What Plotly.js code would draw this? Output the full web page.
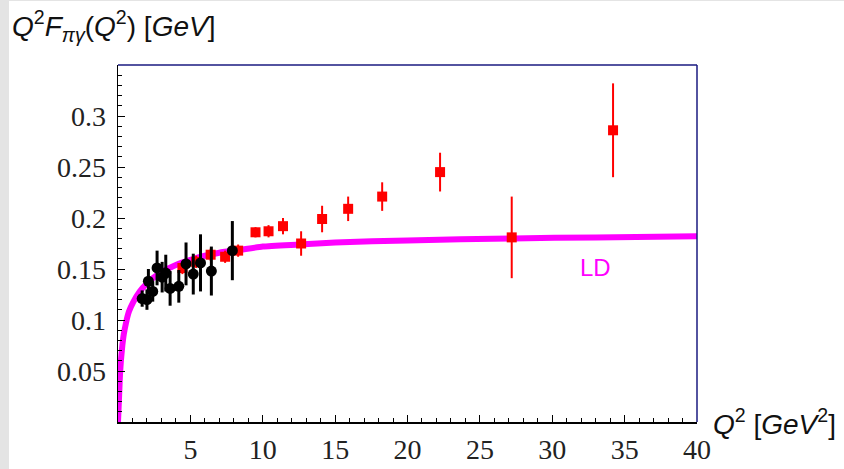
<!DOCTYPE html>
<html>
<head>
<meta charset="utf-8">
<script src="https://cdn.plot.ly/plotly-3.0.1.min.js"></script>
<style>
  html, body { margin: 0; padding: 0; background: #e4e4e4; }
  #sheet { position: absolute; left: 9px; top: 1px; right: 0; bottom: 0; background: #ffffff; }
  #chart { position: absolute; left: 0; top: 0; width: 844px; height: 469px; }
</style>
</head>
<body>
<div id="sheet"></div>
<div id="chart"></div>
<script>
// Local-duality (LD) prediction for Q^2 F_{pi gamma}(Q^2)
const ldQ2  = [0, 0.03, 0.06, 0.1, 0.14, 0.2, 0.3, 0.4, 0.55, 0.75, 1.07, 1.5, 2, 2.5, 3, 4, 5, 6, 7, 8.5, 10, 12.5, 15, 20, 27.3, 33, 40];
const ldVal = [0, 0.010, 0.020, 0.034, 0.047, 0.060, 0.075, 0.086, 0.097, 0.108, 0.118, 0.128, 0.136, 0.142, 0.147, 0.154, 0.159, 0.163, 0.166, 0.169, 0.172, 0.174, 0.176, 0.178, 0.180, 0.181, 0.182];

// BaBar data (red squares)
const babarQ2  = [4.45, 5.4, 6.4, 7.4, 8.3, 9.5, 10.4, 11.4, 12.65, 14.1, 15.9, 18.25, 22.25, 27.2, 34.2];
const babarVal = [0.151, 0.157, 0.164, 0.162, 0.168, 0.186, 0.187, 0.192, 0.175, 0.199, 0.209, 0.221, 0.245, 0.181, 0.286];
const babarErr = [0.006, 0.006, 0.006, 0.006, 0.006, 0.005, 0.006, 0.008, 0.012, 0.013, 0.012, 0.014, 0.019, 0.040, 0.046];

// CLEO data (black circles)
const cleoQ2  = [1.67, 2.0, 2.1, 2.4, 2.7, 3.05, 3.3, 3.6, 4.2, 4.7, 5.2, 5.7, 6.45, 7.9];
const cleoVal = [0.121, 0.120, 0.138, 0.128, 0.151, 0.142, 0.146, 0.131, 0.133, 0.155, 0.145, 0.156, 0.148, 0.168];
const cleoErr = [0.008, 0.010, 0.012, 0.010, 0.017, 0.015, 0.018, 0.017, 0.016, 0.021, 0.020, 0.028, 0.024, 0.029];

// Axis ticks
const xTicks = [5, 10, 15, 20, 25, 30, 35, 40];
const yTicks = [0.05, 0.1, 0.15, 0.2, 0.25, 0.3];
const yTickText = ['0.05', '0.1', '0.15', '0.2', '0.25', '0.3'];

const magenta = '#ff00ff';
const red = '#ff0000';
const navy = '#1a1a80';

const traces = [
  {
    x: ldQ2, y: ldVal, type: 'scatter', mode: 'lines',
    line: { color: magenta, width: 6, shape: 'spline', smoothing: 0.5 },
    hoverinfo: 'skip'
  },
  {
    x: babarQ2, y: babarVal, type: 'scatter', mode: 'markers',
    marker: { symbol: 'square', size: 10, color: red },
    error_y: { type: 'data', array: babarErr, visible: true, color: red, thickness: 2, width: 0 }
  },
  {
    x: cleoQ2, y: cleoVal, type: 'scatter', mode: 'markers',
    marker: { symbol: 'circle', size: 11, color: '#000000' },
    error_y: { type: 'data', array: cleoErr, visible: true, color: '#000000', thickness: 3, width: 0 }
  }
];

const tickFont = { family: 'Liberation Serif, Times New Roman, serif', size: 28, color: '#222222' };
const titleFont = { family: 'Liberation Sans, Arial, sans-serif', size: 28, color: '#111111' };

const layout = {
  width: 844, height: 469,
  margin: { l: 118, r: 147, t: 65, b: 47 },
  paper_bgcolor: 'rgba(0,0,0,0)',
  plot_bgcolor: '#ffffff',
  showlegend: false,
  xaxis: {
    range: [0, 40], showgrid: false, zeroline: false,
    showline: true, linecolor: '#000000', linewidth: 1.5,
    tickvals: xTicks, ticktext: xTicks.map(String),
    ticks: 'inside', ticklen: 7, tickcolor: '#000000', tickwidth: 1,
    minor: { dtick: 1, ticks: 'inside', ticklen: 4, tickcolor: '#000000', tickwidth: 1, showgrid: false },
    tickfont: tickFont, ticklabelstandoff: 2
  },
  yaxis: {
    range: [0, 0.35], showgrid: false, zeroline: false,
    showline: true, linecolor: '#000000', linewidth: 1.5,
    tickvals: yTicks, ticktext: yTickText,
    ticks: 'inside', ticklen: 7, tickcolor: '#000000', tickwidth: 1,
    minor: { dtick: 0.01, ticks: 'inside', ticklen: 4, tickcolor: '#000000', tickwidth: 1, showgrid: false },
    tickfont: tickFont, ticklabelstandoff: 5
  },
  shapes: [
    // top and right frame edges
    { type: 'line', xref: 'paper', yref: 'paper', x0: 0, x1: 1, y0: 1, y1: 1, line: { color: navy, width: 1.5 } },
    { type: 'line', xref: 'paper', yref: 'paper', x0: 1, x1: 1, y0: 0, y1: 1, line: { color: navy, width: 1.5 } }
  ],
  annotations: [
    {
      text: '<i>Q</i><sup>2</sup><i>F</i><sub><i>πγ</i></sub>(<i>Q</i><sup>2</sup>) [<i>GeV</i>]',
      xref: 'paper', yref: 'paper', x: -0.186, y: 1.11, xanchor: 'left', yanchor: 'middle',
      showarrow: false, font: titleFont
    },
    {
      text: '<i>Q</i><sup>2</sup> [<i>GeV</i><sup>2</sup>]',
      xref: 'paper', yref: 'paper', x: 1.025, y: 0.0, xanchor: 'left', yanchor: 'middle',
      showarrow: false, font: titleFont
    },
    {
      text: 'LD', xref: 'x', yref: 'y', x: 33.0, y: 0.151, xanchor: 'center', yanchor: 'middle',
      showarrow: false, font: { family: 'Liberation Sans, Arial, sans-serif', size: 24, color: magenta }
    }
  ]
};

Plotly.newPlot('chart', traces, layout, { displayModeBar: false, staticPlot: true });
</script>
</body>
</html>
